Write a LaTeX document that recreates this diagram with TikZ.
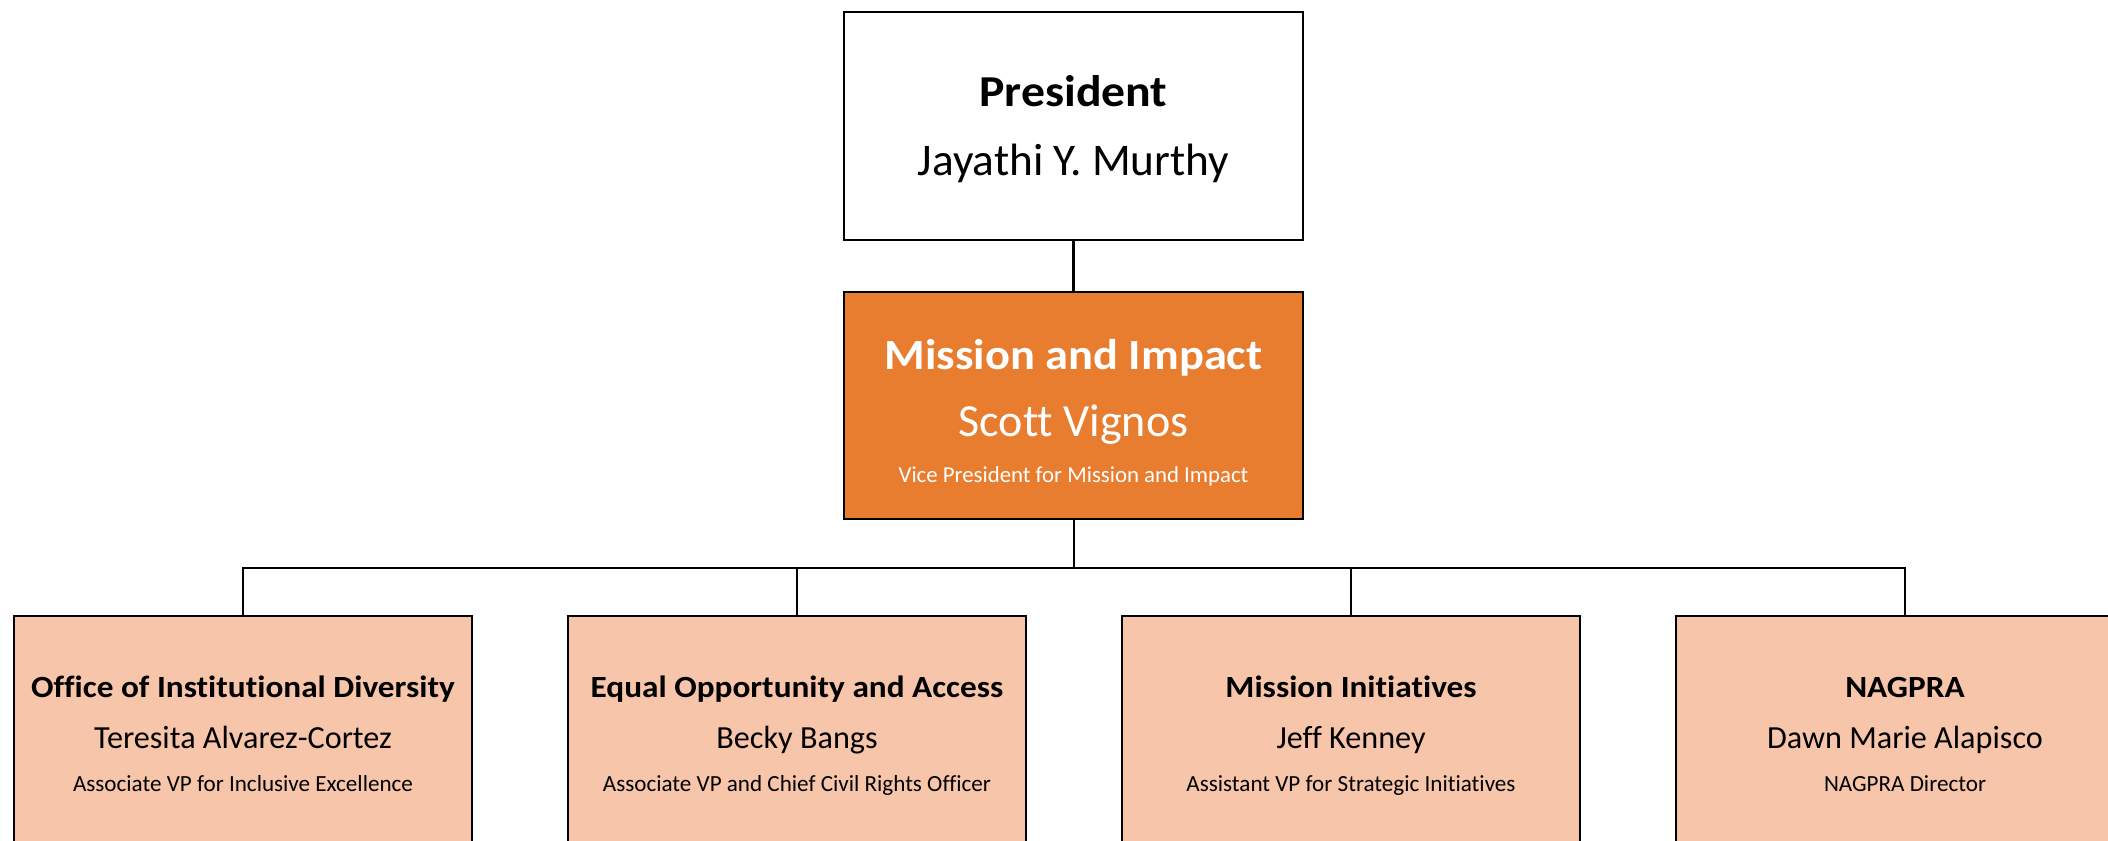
\documentclass[tikz,border=0pt]{standalone}
\usepackage{fontspec}
\setmainfont{Carlito}[Ligatures=NoCommon]
\newfontfamily\titlefont{Carlito Bold}[FakeStretch=1.08, Ligatures=NoCommon]
\definecolor{vporange}{HTML}{E97D2F}
\definecolor{peach}{HTML}{F7C5AA}
\tikzset{
  box/.style={draw=black, line width=2pt, minimum width=459pt, inner sep=0pt, outer sep=0pt},
  topbox/.style={box, fill=white, minimum height=228pt},
  midbox/.style={box, fill=vporange, minimum height=227pt},
  unitbox/.style={box, fill=peach, minimum width=458pt, minimum height=240pt},
  txt/.style={anchor=base, inner sep=0pt},
  unittitle/.style={txt, font=\fontsize{30.8}{34}\titlefont},
  unitname/.style={txt, font=\fontsize{32.2}{36}\selectfont},
  unitsub/.style={txt, font=\fontsize{23.1}{26}\selectfont},
  conn/.style={draw=black, line width=2pt},
}
\begin{document}
\begin{tikzpicture}[x=1pt,y=-1pt]
\useasboundingbox (0,0) rectangle (2108,840);
\clip (0,0) rectangle (2108,840);
\fill[white] (0,0) rectangle (2108,840);
% boxes
\node[topbox] (pres) at (1073.5,126) {};
\node[midbox] (vp) at (1073.5,405.5) {};
\node[unitbox] (u1) at (243,736) {};
\node[unitbox] (u2) at (797,736) {};
\node[unitbox] (u3) at (1351,736) {};
\node[unitbox] (u4) at (1905,736) {};
\coordinate (bar) at (1073.5,568);
% connectors
\draw[conn, line width=3pt] (pres.south) -- (vp.north);
\draw[conn] (vp.south) -- (bar);
\draw[conn] (u1.north) |- (bar) -| (u4.north);
\draw[conn] (u2.north) -- (u2.north |- bar);
\draw[conn] (u3.north) -- (u3.north |- bar);
% texts
\node[txt] (pres-t) at (1073.5,107) {\fontsize{44.2}{48}\titlefont President};
\node[txt] (pres-n) at (1073.5,175) {\fontsize{45.3}{48}\selectfont Jayathi Y. Murthy};
\node[txt, text=white] (vp-t) at (1073.5,369) {\fontsize{43}{46}\titlefont Mission and Impact};
\node[txt, text=white] (vp-n) at (1073.5,436) {\fontsize{46}{50}\selectfont Scott Vignos};
\node[txt, text=white] (vp-s) at (1073.5,482) {\fontsize{22.8}{26}\selectfont Vice President for Mission and Impact};
\node[unittitle] (u1-t) at (243,697) {Office of Institutional Diversity};
\node[unitname] (u1-n) at (243,748) {Teresita Alvarez-Cortez};
\node[unitsub] (u1-s) at (243,791) {Associate VP for Inclusive Excellence};
\node[unittitle] (u2-t) at (797,697) {Equal Opportunity and Access};
\node[unitname] (u2-n) at (797,748) {Becky Bangs};
\node[unitsub] (u2-s) at (797,791) {Associate VP and Chief Civil Rights Officer};
\node[unittitle] (u3-t) at (1351,697) {Mission Initiatives};
\node[unitname] (u3-n) at (1351,748) {Jeff Kenney};
\node[unitsub] (u3-s) at (1351,791) {Assistant VP for Strategic Initiatives};
\node[unittitle] (u4-t) at (1905,697) {NAGPRA};
\node[unitname] (u4-n) at (1905,748) {Dawn Marie Alapisco};
\node[unitsub] (u4-s) at (1905,791) {NAGPRA Director};
\end{tikzpicture}
\end{document}
